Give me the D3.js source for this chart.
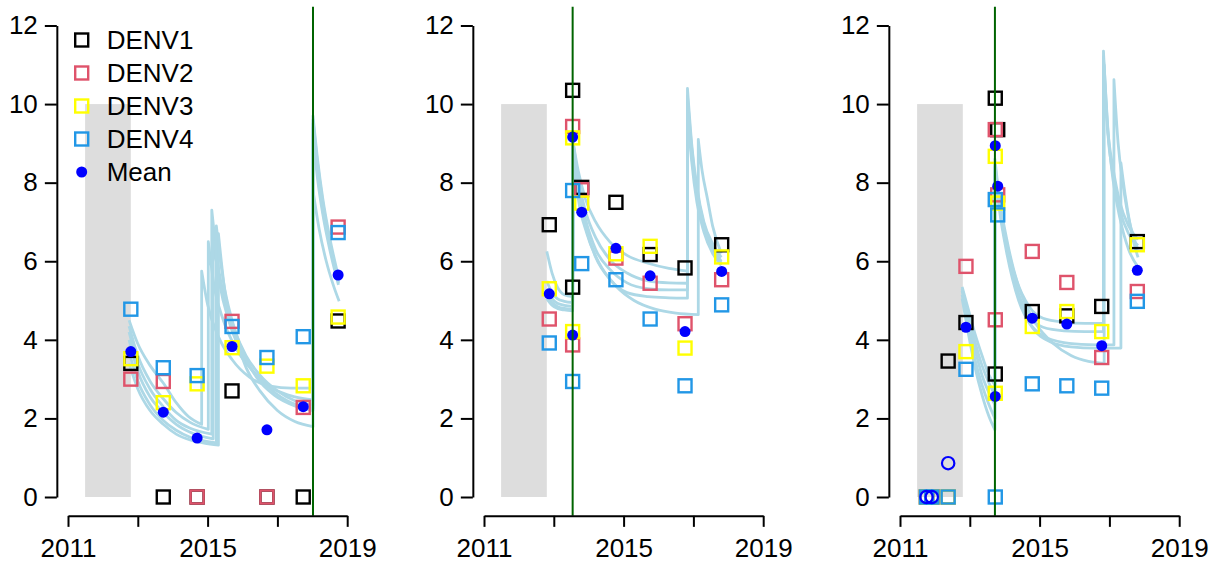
<!DOCTYPE html>
<html>
<head>
<meta charset="utf-8">
<script src="https://cdn.jsdelivr.net/npm/d3@7"></script>
<style>
  body { margin: 0; background: #fff; }
  svg text { font-family: "Liberation Sans", Arial, Helvetica, sans-serif; }
</style>
</head>
<body>
<div id="chart"></div>
<script>
// serotype names + colours
var seroNames = ["DENV1", "DENV2", "DENV3", "DENV4"];
var seroColors = ["#000000", "#DF536B", "#FFFF00", "#2297E6"];
var meanColor = "#0000FF";

var yTicks = [0, 2, 4, 6, 8, 10, 12];
var xTicks = [2011, 2013, 2015, 2017, 2019];
var xLabels = [2011, 2015, 2019];

// panel 1
var p1Times = [2012.8, 2013.73, 2014.7, 2015.7, 2016.7, 2017.74, 2018.74];
var p1Denv1 = [3.40, 0, 0, 2.70, 0, 0, 4.48];
var p1Denv2 = [3.00, 2.94, 0, 4.47, 0, 2.28, 6.87];
var p1Denv3 = [3.52, 2.40, 2.88, 3.80, 3.33, 2.83, 4.58];
var p1Denv4 = [4.78, 3.29, 3.09, 4.34, 3.55, 4.08, 6.73];
var p1Mean = [3.70, 2.16, 1.50, 3.83, 1.71, 2.30, 5.65];
var p1Open = [0, 0, 0, 0, 0, 0, 0];
var p1Event = 2018.02;
var p1Curves = [
  [[[2012.75,4.5],[2013.0,3.9],[2013.35,3.35],[2013.73,2.9],[2014.1,2.4],[2014.45,2.05],[2014.83,1.85]],
   [[2014.83,5.75],[2015.0,4.9],[2015.3,4.1],[2015.7,3.5],[2016.2,3.05],[2016.8,2.82],[2017.4,2.77],[2018.02,2.77]],
   [[2018.02,9.7],[2018.15,8.6],[2018.3,7.6],[2018.5,6.6],[2018.75,5.6]]],
  [[[2012.75,4.35],[2013.0,3.6],[2013.35,2.95],[2013.73,2.5],[2014.1,2.15],[2014.5,1.9],[2015.02,1.72]],
   [[2015.02,6.5],[2015.2,5.3],[2015.45,4.5],[2015.8,3.8],[2016.3,3.2],[2016.9,2.75],[2017.5,2.55],[2018.02,2.47]],
   [[2018.02,9.6],[2018.15,8.5],[2018.3,7.5],[2018.5,6.5],[2018.75,5.5]]],
  [[[2012.75,4.2],[2013.0,3.4],[2013.35,2.75],[2013.73,2.3],[2014.1,1.95],[2014.5,1.75],[2015.12,1.6]],
   [[2015.12,7.3],[2015.3,5.9],[2015.5,5.0],[2015.75,4.3],[2016.1,3.6],[2016.5,3.1],[2017.0,2.7],[2017.5,2.45],[2018.02,2.34]],
   [[2018.02,9.5],[2018.15,8.4],[2018.3,7.4],[2018.5,6.45],[2018.75,5.45]]],
  [[[2012.75,4.0],[2013.0,3.2],[2013.35,2.55],[2013.73,2.15],[2014.1,1.85],[2014.5,1.65],[2015.16,1.48]],
   [[2015.16,6.6],[2015.35,5.4],[2015.6,4.5],[2015.9,3.8],[2016.3,3.2],[2016.8,2.75],[2017.4,2.4],[2018.02,2.26]],
   [[2018.02,9.4],[2018.15,8.3],[2018.3,7.3],[2018.5,6.4],[2018.75,5.45]]],
  [[[2012.75,3.7],[2013.0,2.95],[2013.35,2.35],[2013.73,1.95],[2014.1,1.7],[2014.5,1.52],[2015.25,1.38]],
   [[2015.25,6.9],[2015.45,5.5],[2015.7,4.5],[2016.0,3.7],[2016.4,3.05],[2016.9,2.6],[2017.5,2.32],[2018.02,2.2]],
   [[2018.02,9.2],[2018.15,8.1],[2018.3,7.2],[2018.5,6.3],[2018.75,5.4]]],
  [[[2012.75,3.4],[2013.0,2.75],[2013.35,2.2],[2013.73,1.85],[2014.1,1.6],[2014.5,1.45],[2014.9,1.37],[2015.31,1.32]],
   [[2015.31,6.7],[2015.5,5.2],[2015.75,4.2],[2016.1,3.3],[2016.5,2.7],[2017.0,2.2],[2017.5,1.92],[2018.02,1.79]],
   [[2018.02,7.8],[2018.2,6.8],[2018.4,6.0],[2018.6,5.4],[2018.77,4.98]]]
];

// panel 2
var p2Times = [2012.87, 2013.54, 2013.54, 2013.8, 2014.78, 2015.76, 2016.76, 2017.81];
var p2Denv1 = [6.93, 10.35, 5.34, 7.88, 7.50, 6.17, 5.83, 6.42];
var p2Denv2 = [4.53, 9.43, 3.87, 7.82, 6.08, 5.44, 4.41, 5.53];
var p2Denv3 = [5.30, 9.14, 4.21, 7.48, 6.19, 6.38, 3.79, 6.11];
var p2Denv4 = [3.92, 7.80, 2.94, 5.94, 5.53, 4.53, 2.83, 4.89];
var p2Mean = [5.17, 9.16, 4.12, 7.25, 6.33, 5.63, 4.21, 5.74];
var p2Open = [0, 0, 0, 0, 0, 0, 0, 0];
var p2Event = 2013.54;
var p2Curves = [
  [[[2012.8,6.25],[2012.95,5.7],[2013.1,5.35],[2013.3,5.15],[2013.54,5.1]],
   [[2013.54,9.1],[2013.7,8.3],[2013.9,7.6],[2014.2,7.0],[2014.6,6.5],[2015.1,6.15],[2015.7,5.95],[2016.3,5.82],[2016.83,5.75]],
   [[2016.83,10.4],[2016.95,9.0],[2017.1,7.9],[2017.3,7.0],[2017.55,6.45],[2017.8,6.1]]],
  [[[2012.8,5.5],[2012.95,5.2],[2013.1,5.05],[2013.3,4.98],[2013.54,4.95]],
   [[2013.56,9.0],[2013.7,8.1],[2013.9,7.3],[2014.2,6.6],[2014.6,6.05],[2015.1,5.7],[2015.7,5.5],[2016.3,5.45],[2016.83,5.44]],
   [[2016.83,10.2],[2016.95,8.9],[2017.1,7.8],[2017.3,6.95],[2017.55,6.35],[2017.8,6.0]]],
  [[[2012.8,5.3],[2012.95,5.05],[2013.1,4.93],[2013.3,4.88],[2013.54,4.85]],
   [[2013.56,8.9],[2013.7,7.9],[2013.9,7.1],[2014.2,6.3],[2014.6,5.8],[2015.1,5.45],[2015.7,5.3],[2016.3,5.27],[2016.83,5.27]],
   [[2016.83,10.0],[2016.95,8.7],[2017.1,7.65],[2017.3,6.85],[2017.55,6.3],[2017.8,5.95]]],
  [[[2012.8,5.15],[2012.95,4.95],[2013.1,4.85],[2013.3,4.8],[2013.54,4.78]],
   [[2013.56,8.8],[2013.7,7.7],[2013.9,6.9],[2014.2,6.1],[2014.6,5.55],[2015.1,5.2],[2015.7,5.1],[2016.3,5.07],[2016.83,5.06]],
   [[2016.83,9.8],[2016.95,8.55],[2017.1,7.5],[2017.3,6.75],[2017.55,6.2],[2017.8,5.9]]],
  [[[2012.8,5.05],[2012.95,4.88],[2013.1,4.8],[2013.3,4.76],[2013.54,4.74]],
   [[2013.56,8.7],[2013.7,7.6],[2013.95,6.7],[2014.3,5.95],[2014.8,5.35],[2015.3,5.0],[2015.9,4.78],[2016.5,4.68],[2017.14,4.64]],
   [[2017.14,9.1],[2017.25,8.3],[2017.4,7.6],[2017.55,6.9],[2017.8,6.2]]]
];

// panel 3
var p3Times = [2011.76, 2011.91, 2012.38, 2012.89, 2013.73, 2013.8, 2013.73, 2014.79, 2015.78, 2016.78, 2017.8];
var p3Denv1 = [0, 0, 3.46, 4.44, 10.15, 9.35, 3.13, 4.72, 4.61, 4.85, 6.50];
var p3Denv2 = [0, 0, 0, 5.87, 9.35, 7.69, 4.51, 6.25, 5.46, 3.55, 5.23];
var p3Denv3 = [0, 0, 0, 3.70, 8.67, 7.48, 2.64, 4.34, 4.72, 4.21, 6.42];
var p3Denv4 = [0, 0, 0, 3.25, 7.57, 7.18, 0, 2.88, 2.83, 2.77, 4.98];
var p3Mean = [0, 0, 0.86, 4.32, 8.94, 7.91, 2.56, 4.55, 4.40, 3.85, 5.77];
var p3Open = [1, 1, 1, 0, 0, 0, 0, 0, 0, 0, 0];
var p3Event = 2013.72;
var p3Curves = [
  [[[2012.78,5.35],[2012.95,4.8],[2013.15,4.15],[2013.35,3.6],[2013.55,3.1],[2013.72,2.85]],
   [[2013.72,8.6],[2013.85,7.6],[2014.05,6.6],[2014.35,5.5],[2014.7,4.85],[2015.1,4.55],[2015.7,4.45],[2016.3,4.42],[2016.83,4.42]],
   [[2016.83,11.35],[2016.95,9.4],[2017.1,8.4],[2017.3,7.5],[2017.55,6.9],[2017.82,6.55]]],
  [[[2012.78,5.3],[2012.95,4.65],[2013.15,3.95],[2013.35,3.35],[2013.55,2.9],[2013.72,2.6]],
   [[2013.72,8.5],[2013.85,7.5],[2014.05,6.45],[2014.35,5.3],[2014.7,4.6],[2015.1,4.32],[2015.7,4.23],[2016.3,4.21],[2016.83,4.21]],
   [[2016.83,11.2],[2016.95,9.3],[2017.1,8.2],[2017.3,7.3],[2017.55,6.7],[2017.82,6.4]]],
  [[[2012.78,5.25],[2012.95,4.5],[2013.15,3.75],[2013.35,3.1],[2013.55,2.65],[2013.72,2.35]],
   [[2013.72,8.4],[2013.85,7.4],[2014.05,6.35],[2014.35,5.2],[2014.7,4.45],[2015.1,4.1],[2015.7,3.93],[2016.4,3.88],[2017.13,3.87]],
   [[2017.13,10.62],[2017.25,9.0],[2017.4,7.9],[2017.55,7.1],[2017.7,6.6],[2017.82,6.3]]],
  [[[2012.78,5.15],[2012.95,4.35],[2013.15,3.5],[2013.35,2.85],[2013.55,2.35],[2013.72,2.0]],
   [[2013.72,8.3],[2013.85,7.3],[2014.05,6.25],[2014.4,5.0],[2014.8,4.3],[2015.3,3.95],[2015.9,3.82],[2016.6,3.79],[2017.33,3.79]],
   [[2017.33,8.5],[2017.45,7.7],[2017.6,6.9],[2017.72,6.4],[2017.82,6.1]]],
  [[[2012.78,5.05],[2012.95,4.2],[2013.15,3.3],[2013.35,2.6],[2013.55,2.05],[2013.72,1.71]],
   [[2013.72,8.2],[2013.9,7.2],[2014.15,6.1],[2014.5,5.1],[2014.9,4.4],[2015.4,3.9],[2015.9,3.6],[2016.4,3.45],[2016.85,3.4]],
   [[2016.85,11.0],[2016.97,9.2],[2017.1,8.1],[2017.3,7.1],[2017.55,6.3],[2017.82,5.85]]]
];

var shadeX = [2011.49, 2012.8];
var shadeY = [0, 10];

var panels = [
  {x0: 68, times: p1Times, sero: [p1Denv1, p1Denv2, p1Denv3, p1Denv4], mean: p1Mean, open: p1Open, event: p1Event, curves: p1Curves, legend: true},
  {x0: 484, times: p2Times, sero: [p2Denv1, p2Denv2, p2Denv3, p2Denv4], mean: p2Mean, open: p2Open, event: p2Event, curves: p2Curves, legend: false},
  {x0: 900, times: p3Times, sero: [p3Denv1, p3Denv2, p3Denv3, p3Denv4], mean: p3Mean, open: p3Open, event: p3Event, curves: p3Curves, legend: false}
];

window.w = 1220;
window.h = 569;
let yearPx = 34.9;
let fontSize = 26;
let sq = 13;

const svg = d3.select("#chart")
  .append("svg")
  .attr("width", w)
  .attr("height", h);

var yScale = d3.scaleLinear()
  .domain([0, 12])
  .range([497, 25.5]);

panels.forEach(function(p) {
  var xScale = d3.scaleLinear()
    .domain([2011, 2019])
    .range([p.x0, p.x0 + 8 * yearPx]);

  // R style 4% extension of limits
  var xLeft = xScale(2011 - 0.32), xRight = xScale(2019 + 0.32);
  var yTop = yScale(12.48), yBot = yScale(-0.48);

  const g = svg.append("g");

  g.append("rect")
    .attr("x", xScale(shadeX[0]))
    .attr("y", yScale(shadeY[1]))
    .attr("width", xScale(shadeX[1]) - xScale(shadeX[0]))
    .attr("height", yScale(shadeY[0]) - yScale(shadeY[1]))
    .attr("fill", "#dddddd");

  var line = d3.line()
    .x(function(d) { return xScale(d[0]); })
    .y(function(d) { return yScale(d[1]); })
    .curve(d3.curveMonotoneX);

  p.curves.forEach(function(traj) {
    var path = traj.map(function(seg, i) {
      var d = line(seg);
      return i ? "L" + d.slice(1) : d;
    }).join("");
    g.append("path")
      .attr("d", path)
      .attr("fill", "none")
      .attr("stroke", "#ADD8E6")
      .attr("stroke-width", 2.8)
      .attr("stroke-linejoin", "round");
  });

  p.sero.forEach(function(vals, k) {
    g.selectAll(null)
      .data(vals)
      .enter()
      .append("rect")
      .attr("x", function(d, i) { return xScale(p.times[i]) - sq / 2; })
      .attr("y", function(d) { return yScale(d) - sq / 2; })
      .attr("width", sq)
      .attr("height", sq)
      .attr("fill", "none")
      .attr("stroke", seroColors[k])
      .attr("stroke-width", 2.4);
  });

  g.selectAll(null)
    .data(p.mean)
    .enter()
    .append("circle")
    .attr("cx", function(d, i) { return xScale(p.times[i]); })
    .attr("cy", function(d) { return yScale(d); })
    .attr("r", function(d, i) { return p.open[i] ? 6.2 : 5.5; })
    .attr("fill", function(d, i) { return p.open[i] ? "none" : meanColor; })
    .attr("stroke", function(d, i) { return p.open[i] ? meanColor : "none"; })
    .attr("stroke-width", 2.2);

  g.append("line")
    .attr("x1", xScale(p.event))
    .attr("x2", xScale(p.event))
    .attr("y1", yTop)
    .attr("y2", yBot)
    .attr("stroke", "#006400")
    .attr("stroke-width", 2);

  var yAxis = d3.axisLeft(yScale)
    .tickValues(yTicks)
    .tickSize(12)
    .tickSizeOuter(0)
    .tickPadding(7);

  var xAxis = d3.axisBottom(xScale)
    .tickValues(xTicks)
    .tickSize(11)
    .tickSizeOuter(0)
    .tickPadding(12)
    .tickFormat(function(d) { return xLabels.indexOf(d) >= 0 ? d : ""; });

  var ya = g.append("g")
    .attr("transform", "translate(" + xLeft + ",0)")
    .call(yAxis);

  var xa = g.append("g")
    .attr("transform", "translate(0," + yBot + ")")
    .call(xAxis);

  [ya, xa].forEach(function(a) {
    a.select(".domain").attr("stroke", "#000").attr("stroke-width", 2);
    a.selectAll(".tick line").attr("stroke", "#000").attr("stroke-width", 2);
    a.selectAll("text")
      .attr("fill", "#000")
      .style("font-size", fontSize + "px")
      .style("font-family", "'Liberation Sans', Arial, Helvetica, sans-serif");
  });

  if (p.legend) {
    var lx = 81.7, ly = 40, step = 33;
    seroNames.forEach(function(name, k) {
      g.append("rect")
        .attr("x", lx - sq / 2)
        .attr("y", ly + k * step - sq / 2)
        .attr("width", sq)
        .attr("height", sq)
        .attr("fill", "none")
        .attr("stroke", seroColors[k])
        .attr("stroke-width", 2.4);
      g.append("text")
        .attr("x", lx + 25)
        .attr("y", ly + k * step)
        .attr("dy", "0.36em")
        .style("font-size", fontSize + "px")
        .text(name);
    });
    g.append("circle")
      .attr("cx", lx)
      .attr("cy", ly + 4 * step)
      .attr("r", 5.5)
      .attr("fill", meanColor);
    g.append("text")
      .attr("x", lx + 25)
      .attr("y", ly + 4 * step)
      .attr("dy", "0.36em")
      .style("font-size", fontSize + "px")
      .text("Mean");
  }
});
</script>
</body>
</html>
